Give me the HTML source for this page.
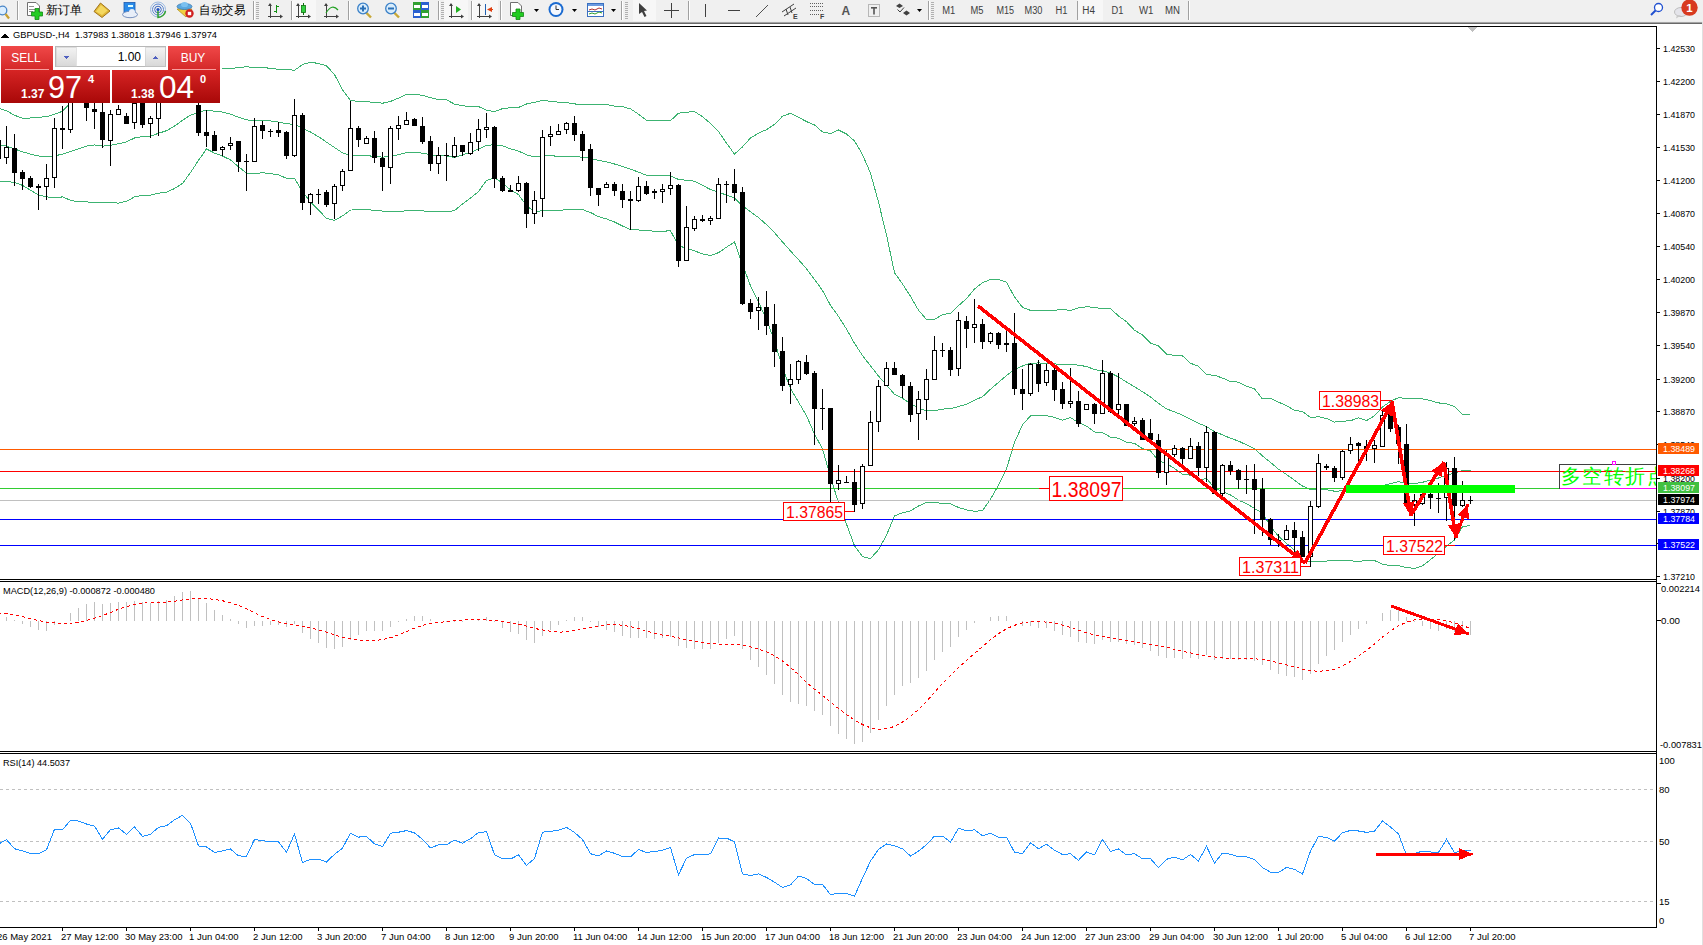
<!DOCTYPE html>
<html><head><meta charset="utf-8"><title>MT4 GBPUSD H4</title>
<style>
html,body{margin:0;padding:0;background:#fff;overflow:hidden;}
body{width:1703px;height:945px;position:relative;font-family:"Liberation Sans", sans-serif;}
svg{position:absolute;left:0;top:0;display:block;}
text{font-family:"Liberation Sans", sans-serif;}
</style></head><body>
<svg width="1703" height="945" viewBox="0 0 1703 945" shape-rendering="crispEdges">
<rect x="0" y="0" width="1703" height="945" fill="#fff"/>
<rect x="0" y="0" width="1703" height="21" fill="#f0f0f0"/>
<rect x="0" y="21" width="1703" height="1" fill="#ececec"/>
<rect x="0" y="22" width="1703" height="1" fill="#a4a4a4"/>
<rect x="0" y="23" width="1703" height="1" fill="#686868"/>
<rect x="0" y="24" width="1703" height="2" fill="#ffffff"/>
<g shape-rendering="geometricPrecision"><circle cx="2.5" cy="10.5" r="4.3" fill="#dbeeff" stroke="#4a86c8" stroke-width="1.3"/>
<line x1="5.5" y1="14" x2="9" y2="18.5" stroke="#c8a030" stroke-width="2.2"/>
<rect x="17" y="1" width="1" height="19" fill="#a0a0a0"/><rect x="18" y="1" width="1" height="19" fill="#ffffff"/>
<path d="M27.5,2.5 H36 L39.5,6 V15.5 H27.5 Z" fill="#fff" stroke="#707070"/>
<rect x="29" y="6" width="5" height="1" fill="#909090"/><rect x="29" y="9" width="6" height="1" fill="#909090"/><rect x="29" y="11" width="4" height="1" fill="#909090"/>
<path d="M35,8.5 h4 v3.5 h3.5 v4 h-3.5 v3.5 h-4 v-3.5 h-3.5 v-4 h3.5 Z" fill="#22cc22" stroke="#118811" stroke-width="0.8"/>
<text x="46" y="14" font-size="12" fill="#000" font-family='"Liberation Sans", sans-serif' textLength="36" lengthAdjust="spacingAndGlyphs">新订单</text>
<polygon points="94,11.5 100.5,3 110,11 102,17.5" fill="#e0b838" stroke="#9a6a10" stroke-width="0.9"/>
<polygon points="96,11.5 101,5 107.5,10.5 102,15" fill="#f4d860"/>
<rect x="124" y="2.5" width="11" height="10" fill="#2a8ae8" stroke="#1a5ab0" stroke-width="0.8"/>
<rect x="128" y="5" width="5" height="2" fill="#dff"/>
<ellipse cx="130" cy="14.5" rx="7.5" ry="3.2" fill="#e8eef8" stroke="#6a86b8" stroke-width="0.9"/>
<circle cx="132" cy="12" r="3" fill="#e8eef8"/>
<circle cx="158" cy="9.5" r="7.5" fill="none" stroke="#9ab8e0" stroke-width="1"/>
<circle cx="158" cy="9.5" r="5.5" fill="none" stroke="#5a86d0" stroke-width="1"/>
<circle cx="158" cy="9.5" r="3.3" fill="none" stroke="#3a66c0" stroke-width="1"/>
<path d="M158,9.5 V17.5 A8,8 0 0 0 165.5,11" fill="none" stroke="#30a030" stroke-width="1.5"/>
<circle cx="158" cy="9.5" r="1.6" fill="#2050c0"/>
<polygon points="177,9 192,9 186,17" fill="#f0d040" stroke="#b09020" stroke-width="0.8"/>
<ellipse cx="184.5" cy="6.5" rx="7.5" ry="3" fill="#5aa8e0" stroke="#3a78b0" stroke-width="0.8"/>
<ellipse cx="184.5" cy="4.5" rx="3.5" ry="2.6" fill="#7ac0f0"/>
<circle cx="189.5" cy="13.5" r="4.2" fill="#d02020"/><rect x="187.8" y="11.8" width="3.4" height="3.4" fill="#fff"/>
<text x="199" y="14" font-size="12" fill="#000" font-family='"Liberation Sans", sans-serif' textLength="46" lengthAdjust="spacingAndGlyphs">自动交易</text>
<rect x="253" y="1" width="1" height="19" fill="#a0a0a0"/><rect x="254" y="1" width="1" height="19" fill="#ffffff"/>
<rect x="256" y="2" width="3" height="1" fill="#b0b0b0"/>
<rect x="256" y="4" width="3" height="1" fill="#b0b0b0"/>
<rect x="256" y="6" width="3" height="1" fill="#b0b0b0"/>
<rect x="256" y="8" width="3" height="1" fill="#b0b0b0"/>
<rect x="256" y="10" width="3" height="1" fill="#b0b0b0"/>
<rect x="256" y="12" width="3" height="1" fill="#b0b0b0"/>
<rect x="256" y="14" width="3" height="1" fill="#b0b0b0"/>
<rect x="256" y="16" width="3" height="1" fill="#b0b0b0"/>
<rect x="256" y="18" width="3" height="1" fill="#b0b0b0"/>
<g fill="#404040"><rect x="270" y="4" width="1" height="14"/><rect x="268" y="16" width="14" height="1"/><polygon points="270,3 268,6 272,6"/><polygon points="283,16.5 280,14.5 280,18.5"/></g>
<g fill="#109010"><rect x="276" y="5" width="1" height="8"/><rect x="277" y="6" width="2" height="1"/><rect x="274" y="11" width="2" height="1"/></g>
<rect x="291" y="1" width="1" height="19" fill="#a0a0a0"/><rect x="292" y="1" width="1" height="19" fill="#ffffff"/>
<rect x="293" y="0" width="23" height="21" fill="#f7f7f7"/>
<g fill="#404040"><rect x="298" y="4" width="1" height="14"/><rect x="296" y="16" width="14" height="1"/><polygon points="298,3 296,6 300,6"/><polygon points="311,16.5 308,14.5 308,18.5"/></g>
<rect x="303" y="3" width="1" height="12" fill="#107010"/><rect x="301.5" y="5.5" width="4" height="7" fill="#30d040" stroke="#107010" stroke-width="0.8"/>
<g fill="#404040"><rect x="326" y="4" width="1" height="14"/><rect x="324" y="16" width="14" height="1"/><polygon points="326,3 324,6 328,6"/><polygon points="339,16.5 336,14.5 336,18.5"/></g>
<path d="M326,13 Q332,3 338,10" fill="none" stroke="#20a020" stroke-width="1.2"/>
<rect x="348" y="1" width="1" height="19" fill="#a0a0a0"/><rect x="349" y="1" width="1" height="19" fill="#ffffff"/>
<line x1="366" y1="12.5" x2="371" y2="17.5" stroke="#c8a838" stroke-width="2.4"/>
<circle cx="363" cy="8.5" r="5.3" fill="#d8ecfb" stroke="#3a80c8" stroke-width="1.3"/>
<rect x="360" y="7.5" width="6" height="2" fill="#2a70b8"/>
<rect x="362" y="5.5" width="2" height="6" fill="#2a70b8"/>
<line x1="394" y1="12.5" x2="399" y2="17.5" stroke="#c8a838" stroke-width="2.4"/>
<circle cx="391" cy="8.5" r="5.3" fill="#d8ecfb" stroke="#3a80c8" stroke-width="1.3"/>
<rect x="388" y="7.5" width="6" height="2" fill="#2a70b8"/>
<rect x="413" y="2" width="8" height="8" fill="#30a030"/><rect x="421" y="2" width="8" height="8" fill="#2a60d0"/><rect x="413" y="10" width="8" height="8" fill="#2a60d0"/><rect x="421" y="10" width="8" height="8" fill="#30a030"/>
<rect x="414" y="5" width="6" height="3" fill="#fff"/>
<rect x="422" y="5" width="6" height="3" fill="#fff"/>
<rect x="414" y="13" width="6" height="3" fill="#fff"/>
<rect x="422" y="13" width="6" height="3" fill="#fff"/>
<rect x="438" y="1" width="1" height="19" fill="#a0a0a0"/><rect x="439" y="1" width="1" height="19" fill="#ffffff"/>
<rect x="441" y="2" width="3" height="1" fill="#b0b0b0"/>
<rect x="441" y="4" width="3" height="1" fill="#b0b0b0"/>
<rect x="441" y="6" width="3" height="1" fill="#b0b0b0"/>
<rect x="441" y="8" width="3" height="1" fill="#b0b0b0"/>
<rect x="441" y="10" width="3" height="1" fill="#b0b0b0"/>
<rect x="441" y="12" width="3" height="1" fill="#b0b0b0"/>
<rect x="441" y="14" width="3" height="1" fill="#b0b0b0"/>
<rect x="441" y="16" width="3" height="1" fill="#b0b0b0"/>
<rect x="441" y="18" width="3" height="1" fill="#b0b0b0"/>
<rect x="444" y="0" width="24" height="21" fill="#f7f7f7"/>
<g fill="#404040"><rect x="451" y="4" width="1" height="14"/><rect x="449" y="16" width="14" height="1"/><polygon points="451,3 449,6 453,6"/><polygon points="464,16.5 461,14.5 461,18.5"/></g>
<polygon points="456,6 456,13 461,9.5" fill="#20b020"/>
<rect x="471" y="1" width="1" height="19" fill="#a0a0a0"/><rect x="472" y="1" width="1" height="19" fill="#ffffff"/>
<rect x="473" y="0" width="25" height="21" fill="#f7f7f7"/>
<g fill="#404040"><rect x="479" y="4" width="1" height="14"/><rect x="477" y="16" width="14" height="1"/><polygon points="479,3 477,6 481,6"/><polygon points="492,16.5 489,14.5 489,18.5"/></g>
<rect x="485" y="4" width="1" height="11" fill="#2060b0"/><polygon points="487,9.5 492,7 492,12" fill="#e04010"/><rect x="489" y="9" width="4" height="1" fill="#e04010"/>
<rect x="500" y="1" width="1" height="19" fill="#a0a0a0"/><rect x="501" y="1" width="1" height="19" fill="#ffffff"/>
<path d="M510.5,2.5 H518 L521.5,6 V15.5 H510.5 Z" fill="#fff" stroke="#707070"/>
<path d="M516,9 h4 v3.5 h3.5 v4 h-3.5 v3 h-4 v-3 h-3.5 v-4 h3.5 Z" fill="#22cc22" stroke="#118811" stroke-width="0.8"/>
<polygon points="534,9 539,9 536.5,12" fill="#000"/>
<circle cx="556" cy="9.5" r="7.5" fill="#1a6ad0"/><circle cx="556" cy="9.5" r="5.5" fill="#f4f8ff"/><path d="M556,5.5 V9.5 H559" stroke="#333" stroke-width="1" fill="none"/>
<polygon points="572,9 577,9 574.5,12" fill="#000"/>
<rect x="587.5" y="3.5" width="16" height="13" fill="#fff" stroke="#3a70c0"/><rect x="588" y="4" width="15" height="2" fill="#6a9ae0"/><path d="M589,10 L592,9 L595,10 L599,8 L602,9" stroke="#b03030" fill="none"/><path d="M589,14 L592,13 L595,14 L599,12 L602,13" stroke="#30a030" fill="none"/><rect x="588" y="11" width="15" height="1" fill="#3a70c0"/>
<polygon points="611,9 616,9 613.5,12" fill="#000"/>
<rect x="621" y="1" width="1" height="19" fill="#a0a0a0"/><rect x="622" y="1" width="1" height="19" fill="#ffffff"/>
<rect x="625" y="2" width="3" height="1" fill="#b0b0b0"/>
<rect x="625" y="4" width="3" height="1" fill="#b0b0b0"/>
<rect x="625" y="6" width="3" height="1" fill="#b0b0b0"/>
<rect x="625" y="8" width="3" height="1" fill="#b0b0b0"/>
<rect x="625" y="10" width="3" height="1" fill="#b0b0b0"/>
<rect x="625" y="12" width="3" height="1" fill="#b0b0b0"/>
<rect x="625" y="14" width="3" height="1" fill="#b0b0b0"/>
<rect x="625" y="16" width="3" height="1" fill="#b0b0b0"/>
<rect x="625" y="18" width="3" height="1" fill="#b0b0b0"/>
<rect x="633" y="0" width="23" height="21" fill="#f7f7f7"/>
<polygon points="639,3 647,10.5 644,11 646.5,16 644.5,17 642,12 639,14" fill="#404040"/>
<rect x="671" y="3" width="1" height="15" fill="#404040"/><rect x="664" y="10" width="15" height="1" fill="#404040"/>
<rect x="688" y="1" width="1" height="19" fill="#a0a0a0"/><rect x="689" y="1" width="1" height="19" fill="#ffffff"/>
<rect x="705" y="4" width="1" height="13" fill="#404040"/>
<rect x="728" y="10" width="12" height="1" fill="#404040"/>
<line x1="756" y1="17" x2="768" y2="5" stroke="#505050" stroke-width="1"/>
<g stroke="#404040" stroke-width="1" fill="none"><line x1="782" y1="12" x2="794" y2="4"/><line x1="784" y1="16" x2="796" y2="8"/><line x1="786" y1="9" x2="788" y2="15"/><line x1="790" y1="7" x2="792" y2="13"/></g>
<text x="793" y="18.5" font-size="7" font-weight="bold" fill="#404040" font-family='"Liberation Sans", sans-serif'>E</text>
<line x1="810" y1="3.5" x2="824" y2="3.5" stroke="#606060" stroke-width="1" stroke-dasharray="1,1"/>
<line x1="810" y1="6.5" x2="824" y2="6.5" stroke="#606060" stroke-width="1" stroke-dasharray="1,1"/>
<line x1="810" y1="10.5" x2="824" y2="10.5" stroke="#606060" stroke-width="1" stroke-dasharray="1,1"/>
<line x1="810" y1="14.5" x2="819" y2="14.5" stroke="#606060" stroke-width="1" stroke-dasharray="1,1"/>
<text x="820" y="18.5" font-size="7" font-weight="bold" fill="#404040" font-family='"Liberation Sans", sans-serif'>F</text>
<text x="841.5" y="15" font-size="12" font-weight="bold" fill="#555555" font-family='"Liberation Sans", sans-serif'>A</text>
<rect x="868.5" y="4.5" width="11" height="12" fill="none" stroke="#606060" stroke-width="0.8" stroke-dasharray="1,1"/><rect x="871" y="7" width="6" height="1.6" fill="#555"/><rect x="873.2" y="7" width="1.6" height="7.5" fill="#555"/>
<polygon points="896,6 899.5,3.5 903,6 899.5,8" fill="#404040"/><polygon points="903,13 906.5,10.5 910,13 906.5,15.5" fill="#404040"/><path d="M897.5,9.5 L900,12 L904,7.5" fill="none" stroke="#404040" stroke-width="1"/>
<polygon points="917,9 922,9 919.5,12" fill="#000"/>
<rect x="928" y="1" width="1" height="19" fill="#a0a0a0"/><rect x="929" y="1" width="1" height="19" fill="#ffffff"/>
<rect x="931" y="2" width="3" height="1" fill="#b0b0b0"/>
<rect x="931" y="4" width="3" height="1" fill="#b0b0b0"/>
<rect x="931" y="6" width="3" height="1" fill="#b0b0b0"/>
<rect x="931" y="8" width="3" height="1" fill="#b0b0b0"/>
<rect x="931" y="10" width="3" height="1" fill="#b0b0b0"/>
<rect x="931" y="12" width="3" height="1" fill="#b0b0b0"/>
<rect x="931" y="14" width="3" height="1" fill="#b0b0b0"/>
<rect x="931" y="16" width="3" height="1" fill="#b0b0b0"/>
<rect x="931" y="18" width="3" height="1" fill="#b0b0b0"/>
<rect x="1078" y="0" width="25" height="21" fill="#f7f7f7"/>
<rect x="1077" y="1" width="1" height="19" fill="#a0a0a0"/>
<text x="942.2" y="14" font-size="10" fill="#404040" font-family='"Liberation Sans", sans-serif' textLength="13.0" lengthAdjust="spacingAndGlyphs">M1</text>
<text x="970.5" y="14" font-size="10" fill="#404040" font-family='"Liberation Sans", sans-serif' textLength="13.0" lengthAdjust="spacingAndGlyphs">M5</text>
<text x="996.4" y="14" font-size="10" fill="#404040" font-family='"Liberation Sans", sans-serif' textLength="17.6" lengthAdjust="spacingAndGlyphs">M15</text>
<text x="1024.5" y="14" font-size="10" fill="#404040" font-family='"Liberation Sans", sans-serif' textLength="17.9" lengthAdjust="spacingAndGlyphs">M30</text>
<text x="1055.6" y="14" font-size="10" fill="#404040" font-family='"Liberation Sans", sans-serif' textLength="12.0" lengthAdjust="spacingAndGlyphs">H1</text>
<text x="1082.3" y="14" font-size="10" fill="#404040" font-family='"Liberation Sans", sans-serif' textLength="12.7" lengthAdjust="spacingAndGlyphs">H4</text>
<text x="1111.5" y="14" font-size="10" fill="#404040" font-family='"Liberation Sans", sans-serif' textLength="11.9" lengthAdjust="spacingAndGlyphs">D1</text>
<text x="1139" y="14" font-size="10" fill="#404040" font-family='"Liberation Sans", sans-serif' textLength="14.5" lengthAdjust="spacingAndGlyphs">W1</text>
<text x="1165" y="14" font-size="10" fill="#404040" font-family='"Liberation Sans", sans-serif' textLength="15.0" lengthAdjust="spacingAndGlyphs">MN</text>
<rect x="1188" y="1" width="1" height="19" fill="#a0a0a0"/><rect x="1189" y="1" width="1" height="19" fill="#ffffff"/>
<circle cx="1658.5" cy="7.5" r="4" fill="#fff" stroke="#2050d0" stroke-width="1.3"/><line x1="1655.5" y1="10.5" x2="1651" y2="15" stroke="#2050d0" stroke-width="2"/>
<ellipse cx="1681" cy="12" rx="6.5" ry="4.5" fill="#e4e4ea" stroke="#b0b0b0" stroke-width="0.8"/>
<path d="M1677,15 L1676,18.5 L1681,15.5 Z" fill="#c8c8c8"/><circle cx="1689.5" cy="7.6" r="8.2" fill="#d83a20"/>
<text x="1689.5" y="12" font-size="11.5" font-weight="bold" fill="#fff" text-anchor="middle" font-family='"Liberation Sans", sans-serif'>1</text></g>
<defs>
<clipPath id="clipMain"><rect x="0" y="27" width="1656" height="552"/></clipPath>
<clipPath id="clipMacd"><rect x="0" y="582" width="1656" height="169"/></clipPath>
<clipPath id="clipRsi"><rect x="0" y="754" width="1656" height="172"/></clipPath>
<linearGradient id="gSellTop" x1="0" y1="0" x2="0" y2="1"><stop offset="0" stop-color="#f04848"/><stop offset="1" stop-color="#d42828"/></linearGradient>
<linearGradient id="gSellBot" x1="0" y1="0" x2="0" y2="1"><stop offset="0" stop-color="#d62424"/><stop offset="1" stop-color="#a80808"/></linearGradient>
<linearGradient id="gBtn" x1="0" y1="0" x2="0" y2="1"><stop offset="0" stop-color="#f4f4f4"/><stop offset="1" stop-color="#d8d8d8"/></linearGradient>
</defs>
<g clip-path="url(#clipMain)">
<polyline fill="none" stroke="#3cb371" stroke-width="1"  points="-1.5,108.23 6.5,110.78 14.5,115.27 22.5,118.15 30.5,117.99 38.5,117.18 46.5,116.82 54.5,114.27 62.5,111.28 70.5,102.67 78.5,95.58 86.5,90.41 94.5,87.33 102.5,90.02 110.5,88.06 118.5,84.4 126.5,82.39 134.5,79.08 142.5,77.79 150.5,77.26 158.5,73.35 166.5,69.04 174.5,63.62 182.5,57.46 190.5,57.51 198.5,64.32 206.5,71.37 214.5,69.37 222.5,68.08 230.5,68.56 238.5,67.52 246.5,66.75 254.5,67.54 262.5,67.58 270.5,68.26 278.5,69.42 286.5,69.1 294.5,70.35 302.5,64.48 310.5,62.2 318.5,63.49 326.5,65.81 334.5,74.55 342.5,89.74 350.5,100.52 358.5,101.48 366.5,101.84 374.5,102.28 382.5,103.24 390.5,101.41 398.5,98.1 406.5,94.3 414.5,94.17 422.5,95.35 430.5,97.66 438.5,99.74 446.5,99.77 454.5,104.15 462.5,105.74 470.5,106.5 478.5,106.57 486.5,110.16 494.5,111.56 502.5,108.66 510.5,107.75 518.5,107.49 526.5,103.97 534.5,102.29 542.5,100.4 550.5,101.25 558.5,102.19 566.5,102.66 574.5,103.9 582.5,104.75 590.5,104.33 598.5,104.06 606.5,104.6 614.5,106.01 622.5,106.7 630.5,108.85 638.5,114.1 646.5,120.44 654.5,120.65 662.5,120.65 670.5,120.62 678.5,113.25 686.5,112.22 694.5,111.53 702.5,116.68 710.5,123.52 718.5,131.54 726.5,143.13 734.5,154.08 742.5,146.9 750.5,137.91 758.5,133.15 766.5,129.63 774.5,124.34 782.5,116.21 790.5,113.3 798.5,117.33 806.5,121.54 814.5,124.94 822.5,131.91 830.5,133.63 838.5,129.95 846.5,134.02 854.5,140.85 862.5,154.59 870.5,173.1 878.5,202.15 886.5,235.02 894.5,272.67 902.5,284.02 910.5,296.28 918.5,310.22 926.5,319.49 934.5,319.44 942.5,314.58 950.5,313.28 958.5,305.66 966.5,298.66 974.5,288.96 982.5,282.77 990.5,279.46 998.5,279.49 1006.5,282.24 1014.5,296.98 1022.5,307.25 1030.5,310.42 1038.5,310.53 1046.5,310.6 1054.5,310.31 1062.5,309.23 1070.5,310.58 1078.5,307.83 1086.5,306.89 1094.5,307.17 1102.5,308.92 1110.5,308.52 1118.5,316 1126.5,321.7 1134.5,330.27 1142.5,334.81 1150.5,343.1 1158.5,345.81 1166.5,354.11 1174.5,355.36 1182.5,355.88 1190.5,363.23 1198.5,366.26 1206.5,374.66 1214.5,375.23 1222.5,378.03 1230.5,381.57 1238.5,382.09 1246.5,386.15 1254.5,388.87 1262.5,398.98 1270.5,398.31 1278.5,402.17 1286.5,405.51 1294.5,410.45 1302.5,411.49 1310.5,417.6 1318.5,416.71 1326.5,418.45 1334.5,422.11 1342.5,421.16 1350.5,420.78 1358.5,417.69 1366.5,420.68 1374.5,415.68 1382.5,407.04 1390.5,401.31 1398.5,397.7 1406.5,398.35 1414.5,398.6 1422.5,398.8 1430.5,400.58 1438.5,402.9 1446.5,403.77 1454.5,406.64 1462.5,414.19 1470.5,414.66"/>
<polyline fill="none" stroke="#3cb371" stroke-width="1"  points="-1.5,144.79 6.5,146 14.5,148.94 22.5,151.73 30.5,154.14 38.5,156 46.5,156.84 54.5,155.92 62.5,154.1 70.5,151.47 78.5,148.77 86.5,146.16 94.5,144.93 102.5,146.11 110.5,145.37 118.5,143.76 126.5,141.85 134.5,138.01 142.5,136.46 150.5,136.2 158.5,133.28 166.5,130.7 174.5,126.06 182.5,120.42 190.5,115.09 198.5,112.34 206.5,110.15 214.5,111.22 222.5,112.08 230.5,114.21 238.5,117.15 246.5,119.85 254.5,120.59 262.5,120.15 270.5,120.99 278.5,122.12 286.5,123.72 294.5,124.32 302.5,128.22 310.5,132.03 318.5,136.71 326.5,142.12 334.5,147.49 342.5,152.81 350.5,155.28 358.5,155.67 366.5,155.82 374.5,156.2 382.5,157.16 390.5,156.44 398.5,154.66 406.5,152.61 414.5,152.56 422.5,153.1 430.5,154.68 438.5,155.84 446.5,155.88 454.5,157.39 462.5,154.88 470.5,152.29 478.5,149.06 486.5,145.23 494.5,144.82 502.5,145.76 510.5,148.87 518.5,151.06 526.5,154.82 534.5,156.97 542.5,155.53 550.5,155.85 558.5,156.16 566.5,156.29 574.5,156.7 582.5,157.16 590.5,158.41 598.5,160.34 606.5,161.76 614.5,163.99 622.5,166.34 630.5,169.2 638.5,172.05 646.5,175.34 654.5,176 662.5,175.97 670.5,175.68 678.5,179.51 686.5,180.23 694.5,181.18 702.5,185.32 710.5,189.51 718.5,192.11 726.5,195.15 734.5,198.05 742.5,205.71 750.5,211.87 758.5,217.53 766.5,224.6 774.5,232.63 782.5,241.94 790.5,250.93 798.5,259.69 806.5,268.68 814.5,279.5 822.5,290.42 830.5,305.33 838.5,316.36 846.5,329.08 854.5,343.29 862.5,355.62 870.5,365.83 878.5,375.96 886.5,385.14 894.5,394.27 902.5,398.39 910.5,403.54 918.5,408.14 926.5,410.86 934.5,410.84 942.5,409.12 950.5,408.58 958.5,406.53 966.5,404.28 974.5,400.1 982.5,396.75 990.5,389.25 998.5,382.43 1006.5,375.52 1014.5,369.73 1022.5,366.04 1030.5,363.14 1038.5,362.98 1046.5,363.12 1054.5,363.83 1062.5,364.71 1070.5,364.1 1078.5,365.25 1086.5,366.47 1094.5,369.58 1102.5,370.74 1110.5,372.88 1118.5,377.08 1126.5,381.92 1134.5,386.79 1142.5,391.71 1150.5,396.99 1158.5,403.38 1166.5,408.86 1174.5,411.87 1182.5,415.12 1190.5,419.2 1198.5,423.39 1206.5,426.51 1214.5,431.7 1222.5,434.82 1230.5,438.25 1238.5,441.09 1246.5,444.9 1254.5,448.69 1262.5,455.99 1270.5,462.38 1278.5,469.18 1286.5,474.47 1294.5,480.27 1302.5,486.12 1310.5,489.5 1318.5,489.09 1326.5,489.75 1334.5,491.18 1342.5,490.86 1350.5,490.76 1358.5,489.69 1366.5,490.49 1374.5,488.12 1382.5,485.61 1390.5,483.53 1398.5,481.72 1406.5,482.96 1414.5,483.5 1422.5,482.27 1430.5,480.13 1438.5,478 1446.5,474.88 1454.5,473.26 1462.5,470.44 1470.5,470.09"/>
<polyline fill="none" stroke="#3cb371" stroke-width="1"  points="-1.5,181.35 6.5,181.23 14.5,182.6 22.5,185.32 30.5,190.29 38.5,194.82 46.5,196.85 54.5,197.58 62.5,196.93 70.5,200.27 78.5,201.95 86.5,201.91 94.5,202.52 102.5,202.19 110.5,202.68 118.5,203.12 126.5,201.31 134.5,196.93 142.5,195.13 150.5,195.14 158.5,193.21 166.5,192.36 174.5,188.49 182.5,183.39 190.5,172.67 198.5,160.36 206.5,148.94 214.5,153.07 222.5,156.07 230.5,159.85 238.5,166.77 246.5,172.94 254.5,173.64 262.5,172.72 270.5,173.72 278.5,174.82 286.5,178.34 294.5,178.3 302.5,191.95 310.5,201.85 318.5,209.94 326.5,218.44 334.5,220.44 342.5,215.89 350.5,210.03 358.5,209.86 366.5,209.8 374.5,210.13 382.5,211.08 390.5,211.47 398.5,211.23 406.5,210.92 414.5,210.96 422.5,210.86 430.5,211.7 438.5,211.95 446.5,211.98 454.5,210.63 462.5,204.03 470.5,198.07 478.5,191.55 486.5,180.31 494.5,178.09 502.5,182.87 510.5,189.99 518.5,194.62 526.5,205.67 534.5,211.64 542.5,210.67 550.5,210.44 558.5,210.12 566.5,209.92 574.5,209.51 582.5,209.57 590.5,212.49 598.5,216.63 606.5,218.93 614.5,221.97 622.5,225.99 630.5,229.56 638.5,230 646.5,230.24 654.5,231.35 662.5,231.28 670.5,230.74 678.5,245.76 686.5,248.24 694.5,250.83 702.5,253.96 710.5,255.49 718.5,252.68 726.5,247.16 734.5,242.01 742.5,264.52 750.5,285.83 758.5,301.92 766.5,319.57 774.5,340.93 782.5,367.66 790.5,388.55 798.5,402.04 806.5,415.82 814.5,434.05 822.5,448.92 830.5,477.02 838.5,502.76 846.5,524.14 854.5,545.73 862.5,556.65 870.5,558.56 878.5,549.76 886.5,535.26 894.5,515.87 902.5,512.77 910.5,510.8 918.5,506.06 926.5,502.23 934.5,502.25 942.5,503.66 950.5,503.89 958.5,507.4 966.5,509.9 974.5,511.25 982.5,510.72 990.5,499.05 998.5,485.37 1006.5,468.79 1014.5,442.48 1022.5,424.83 1030.5,415.86 1038.5,415.43 1046.5,415.63 1054.5,417.35 1062.5,420.19 1070.5,417.61 1078.5,422.68 1086.5,426.05 1094.5,431.99 1102.5,432.56 1110.5,437.23 1118.5,438.17 1126.5,442.15 1134.5,443.31 1142.5,448.62 1150.5,450.88 1158.5,460.95 1166.5,463.61 1174.5,468.38 1182.5,474.35 1190.5,475.17 1198.5,480.52 1206.5,478.35 1214.5,488.17 1222.5,491.61 1230.5,494.92 1238.5,500.1 1246.5,503.64 1254.5,508.52 1262.5,512.99 1270.5,526.46 1278.5,536.19 1286.5,543.43 1294.5,550.1 1302.5,560.75 1310.5,561.4 1318.5,561.47 1326.5,561.06 1334.5,560.24 1342.5,560.57 1350.5,560.74 1358.5,561.7 1366.5,560.3 1374.5,560.57 1382.5,564.19 1390.5,565.75 1398.5,565.74 1406.5,567.56 1414.5,568.41 1422.5,565.74 1430.5,559.68 1438.5,553.09 1446.5,545.98 1454.5,539.88 1462.5,526.68 1470.5,525.53"/>
<rect x="0" y="449.0" width="1656" height="1" fill="#ff5a00"/>
<rect x="0" y="471.0" width="1656" height="1" fill="#ff0000"/>
<rect x="0" y="488.0" width="1656" height="1" fill="#32cd32"/>
<rect x="0" y="500.0" width="1656" height="1" fill="#c0c0c0"/>
<rect x="0" y="519.0" width="1656" height="1" fill="#0000ff"/>
<rect x="0" y="545.0" width="1656" height="1" fill="#0000ff"/>
<g fill="#000">
<rect x="-2" y="135" width="1" height="27"/><rect x="-4" y="140" width="5" height="19"/>
<rect x="6" y="126" width="1" height="38"/><rect x="4" y="147" width="5" height="11"/><rect x="5" y="148" width="3" height="9" fill="#fff"/>
<rect x="14" y="134" width="1" height="52"/><rect x="12" y="148" width="5" height="25"/>
<rect x="22" y="170" width="1" height="20"/><rect x="20" y="172" width="5" height="7"/>
<rect x="30" y="176" width="1" height="12"/><rect x="28" y="178" width="5" height="9"/>
<rect x="38" y="184" width="1" height="26"/><rect x="36" y="186" width="5" height="2"/>
<rect x="46" y="164" width="1" height="36"/><rect x="44" y="178" width="5" height="9"/><rect x="45" y="179" width="3" height="7" fill="#fff"/>
<rect x="54" y="118" width="1" height="70"/><rect x="52" y="128" width="5" height="50"/><rect x="53" y="129" width="3" height="48" fill="#fff"/>
<rect x="62" y="106" width="1" height="43"/><rect x="60" y="128" width="5" height="2"/>
<rect x="70" y="95" width="1" height="38"/><rect x="68" y="100" width="5" height="30"/><rect x="69" y="101" width="3" height="28" fill="#fff"/>
<rect x="78" y="90" width="1" height="12"/><rect x="76" y="95" width="5" height="5"/><rect x="77" y="96" width="3" height="3" fill="#fff"/>
<rect x="86" y="95" width="1" height="26"/><rect x="84" y="100" width="5" height="8"/>
<rect x="94" y="100" width="1" height="29"/><rect x="92" y="109" width="5" height="3"/>
<rect x="102" y="100" width="1" height="48"/><rect x="100" y="112" width="5" height="28"/>
<rect x="110" y="110" width="1" height="56"/><rect x="108" y="114" width="5" height="27"/><rect x="109" y="115" width="3" height="25" fill="#fff"/>
<rect x="118" y="105" width="1" height="10"/><rect x="116" y="109" width="5" height="6"/><rect x="117" y="110" width="3" height="4" fill="#fff"/>
<rect x="126" y="113" width="1" height="11"/><rect x="124" y="116" width="5" height="8"/>
<rect x="134" y="100" width="1" height="29"/><rect x="132" y="103" width="5" height="20"/><rect x="133" y="104" width="3" height="18" fill="#fff"/>
<rect x="142" y="100" width="1" height="28"/><rect x="140" y="103" width="5" height="22"/>
<rect x="150" y="116" width="1" height="22"/><rect x="148" y="118" width="5" height="6"/><rect x="149" y="119" width="3" height="4" fill="#fff"/>
<rect x="158" y="98" width="1" height="38"/><rect x="156" y="100" width="5" height="19"/><rect x="157" y="101" width="3" height="17" fill="#fff"/>
<rect x="166" y="88" width="1" height="13"/><rect x="164" y="92" width="5" height="8"/><rect x="165" y="93" width="3" height="6" fill="#fff"/>
<rect x="174" y="86" width="1" height="14"/><rect x="172" y="92" width="5" height="4"/>
<rect x="182" y="84" width="1" height="15"/><rect x="180" y="88" width="5" height="8"/><rect x="181" y="89" width="3" height="6" fill="#fff"/>
<rect x="190" y="85" width="1" height="13"/><rect x="188" y="88" width="5" height="7"/>
<rect x="198" y="95" width="1" height="41"/><rect x="196" y="105" width="5" height="28"/>
<rect x="206" y="110" width="1" height="37"/><rect x="204" y="132" width="5" height="4"/>
<rect x="214" y="131" width="1" height="20"/><rect x="212" y="135" width="5" height="16"/>
<rect x="222" y="146" width="1" height="10"/><rect x="220" y="147" width="5" height="3"/><rect x="221" y="148" width="3" height="1" fill="#fff"/>
<rect x="230" y="137" width="1" height="13"/><rect x="228" y="143" width="5" height="3"/><rect x="229" y="144" width="3" height="1" fill="#fff"/>
<rect x="238" y="141" width="1" height="31"/><rect x="236" y="141" width="5" height="21"/>
<rect x="246" y="154" width="1" height="37"/><rect x="244" y="161" width="5" height="1"/>
<rect x="254" y="118" width="1" height="44"/><rect x="252" y="126" width="5" height="36"/><rect x="253" y="127" width="3" height="34" fill="#fff"/>
<rect x="262" y="121" width="1" height="18"/><rect x="260" y="125" width="5" height="6"/>
<rect x="270" y="129" width="1" height="8"/><rect x="268" y="131" width="5" height="1"/>
<rect x="278" y="122" width="1" height="15"/><rect x="276" y="130" width="5" height="3"/>
<rect x="286" y="131" width="1" height="28"/><rect x="284" y="132" width="5" height="24"/>
<rect x="294" y="99" width="1" height="58"/><rect x="292" y="115" width="5" height="41"/><rect x="293" y="116" width="3" height="39" fill="#fff"/>
<rect x="302" y="113" width="1" height="97"/><rect x="300" y="115" width="5" height="88"/>
<rect x="310" y="193" width="1" height="22"/><rect x="308" y="194" width="5" height="9"/><rect x="309" y="195" width="3" height="7" fill="#fff"/>
<rect x="318" y="189" width="1" height="15"/><rect x="316" y="194" width="5" height="1"/>
<rect x="326" y="190" width="1" height="17"/><rect x="324" y="192" width="5" height="13"/>
<rect x="334" y="184" width="1" height="35"/><rect x="332" y="186" width="5" height="18"/><rect x="333" y="187" width="3" height="16" fill="#fff"/>
<rect x="342" y="169" width="1" height="22"/><rect x="340" y="171" width="5" height="15"/><rect x="341" y="172" width="3" height="13" fill="#fff"/>
<rect x="350" y="101" width="1" height="70"/><rect x="348" y="128" width="5" height="43"/><rect x="349" y="129" width="3" height="41" fill="#fff"/>
<rect x="358" y="126" width="1" height="21"/><rect x="356" y="128" width="5" height="12"/>
<rect x="366" y="136" width="1" height="8"/><rect x="364" y="138" width="5" height="6"/><rect x="365" y="139" width="3" height="4" fill="#fff"/>
<rect x="374" y="131" width="1" height="32"/><rect x="372" y="138" width="5" height="20"/>
<rect x="382" y="152" width="1" height="39"/><rect x="380" y="158" width="5" height="9"/>
<rect x="390" y="126" width="1" height="58"/><rect x="388" y="128" width="5" height="40"/><rect x="389" y="129" width="3" height="38" fill="#fff"/>
<rect x="398" y="116" width="1" height="24"/><rect x="396" y="125" width="5" height="4"/><rect x="397" y="126" width="3" height="2" fill="#fff"/>
<rect x="406" y="112" width="1" height="13"/><rect x="404" y="120" width="5" height="5"/><rect x="405" y="121" width="3" height="3" fill="#fff"/>
<rect x="414" y="118" width="1" height="8"/><rect x="412" y="119" width="5" height="7"/>
<rect x="422" y="117" width="1" height="27"/><rect x="420" y="126" width="5" height="16"/>
<rect x="430" y="136" width="1" height="35"/><rect x="428" y="141" width="5" height="23"/>
<rect x="438" y="147" width="1" height="27"/><rect x="436" y="155" width="5" height="9"/><rect x="437" y="156" width="3" height="7" fill="#fff"/>
<rect x="446" y="143" width="1" height="38"/><rect x="444" y="155" width="5" height="1"/>
<rect x="454" y="137" width="1" height="21"/><rect x="452" y="145" width="5" height="12"/><rect x="453" y="146" width="3" height="10" fill="#fff"/>
<rect x="462" y="145" width="1" height="11"/><rect x="460" y="145" width="5" height="7"/>
<rect x="470" y="133" width="1" height="22"/><rect x="468" y="142" width="5" height="12"/><rect x="469" y="143" width="3" height="10" fill="#fff"/>
<rect x="478" y="119" width="1" height="32"/><rect x="476" y="129" width="5" height="13"/><rect x="477" y="130" width="3" height="11" fill="#fff"/>
<rect x="486" y="113" width="1" height="25"/><rect x="484" y="127" width="5" height="3"/><rect x="485" y="128" width="3" height="1" fill="#fff"/>
<rect x="494" y="126" width="1" height="62"/><rect x="492" y="127" width="5" height="52"/>
<rect x="502" y="176" width="1" height="16"/><rect x="500" y="178" width="5" height="13"/>
<rect x="510" y="185" width="1" height="7"/><rect x="508" y="190" width="5" height="2"/>
<rect x="518" y="176" width="1" height="16"/><rect x="516" y="183" width="5" height="8"/><rect x="517" y="184" width="3" height="6" fill="#fff"/>
<rect x="526" y="182" width="1" height="46"/><rect x="524" y="183" width="5" height="31"/>
<rect x="534" y="191" width="1" height="33"/><rect x="532" y="200" width="5" height="14"/><rect x="533" y="201" width="3" height="12" fill="#fff"/>
<rect x="542" y="130" width="1" height="87"/><rect x="540" y="137" width="5" height="62"/><rect x="541" y="138" width="3" height="60" fill="#fff"/>
<rect x="550" y="126" width="1" height="20"/><rect x="548" y="134" width="5" height="3"/><rect x="549" y="135" width="3" height="1" fill="#fff"/>
<rect x="558" y="124" width="1" height="11"/><rect x="556" y="131" width="5" height="4"/><rect x="557" y="132" width="3" height="2" fill="#fff"/>
<rect x="566" y="122" width="1" height="12"/><rect x="564" y="123" width="5" height="7"/><rect x="565" y="124" width="3" height="5" fill="#fff"/>
<rect x="574" y="116" width="1" height="25"/><rect x="572" y="123" width="5" height="12"/>
<rect x="582" y="131" width="1" height="30"/><rect x="580" y="134" width="5" height="17"/>
<rect x="590" y="144" width="1" height="52"/><rect x="588" y="149" width="5" height="39"/>
<rect x="598" y="188" width="1" height="18"/><rect x="596" y="188" width="5" height="7"/>
<rect x="606" y="182" width="1" height="6"/><rect x="604" y="184" width="5" height="4"/><rect x="605" y="185" width="3" height="2" fill="#fff"/>
<rect x="614" y="182" width="1" height="14"/><rect x="612" y="184" width="5" height="7"/>
<rect x="622" y="184" width="1" height="24"/><rect x="620" y="191" width="5" height="9"/>
<rect x="630" y="191" width="1" height="39"/><rect x="628" y="199" width="5" height="2"/>
<rect x="638" y="177" width="1" height="25"/><rect x="636" y="186" width="5" height="15"/><rect x="637" y="187" width="3" height="13" fill="#fff"/>
<rect x="646" y="181" width="1" height="14"/><rect x="644" y="186" width="5" height="8"/>
<rect x="654" y="189" width="1" height="10"/><rect x="652" y="191" width="5" height="2"/>
<rect x="662" y="184" width="1" height="19"/><rect x="660" y="189" width="5" height="3"/><rect x="661" y="190" width="3" height="1" fill="#fff"/>
<rect x="670" y="172" width="1" height="23"/><rect x="668" y="185" width="5" height="4"/><rect x="669" y="186" width="3" height="2" fill="#fff"/>
<rect x="678" y="184" width="1" height="83"/><rect x="676" y="185" width="5" height="76"/>
<rect x="686" y="206" width="1" height="55"/><rect x="684" y="227" width="5" height="34"/><rect x="685" y="228" width="3" height="32" fill="#fff"/>
<rect x="694" y="216" width="1" height="15"/><rect x="692" y="219" width="5" height="10"/><rect x="693" y="220" width="3" height="8" fill="#fff"/>
<rect x="702" y="215" width="1" height="7"/><rect x="700" y="219" width="5" height="2"/>
<rect x="710" y="216" width="1" height="9"/><rect x="708" y="218" width="5" height="3"/><rect x="709" y="219" width="3" height="1" fill="#fff"/>
<rect x="718" y="178" width="1" height="41"/><rect x="716" y="184" width="5" height="35"/><rect x="717" y="185" width="3" height="33" fill="#fff"/>
<rect x="726" y="181" width="1" height="22"/><rect x="724" y="184" width="5" height="1"/>
<rect x="734" y="169" width="1" height="32"/><rect x="732" y="184" width="5" height="9"/>
<rect x="742" y="187" width="1" height="118"/><rect x="740" y="192" width="5" height="112"/>
<rect x="750" y="299" width="1" height="20"/><rect x="748" y="303" width="5" height="9"/>
<rect x="758" y="297" width="1" height="33"/><rect x="756" y="307" width="5" height="4"/><rect x="757" y="308" width="3" height="2" fill="#fff"/>
<rect x="766" y="291" width="1" height="44"/><rect x="764" y="307" width="5" height="19"/>
<rect x="774" y="304" width="1" height="63"/><rect x="772" y="324" width="5" height="28"/>
<rect x="782" y="337" width="1" height="54"/><rect x="780" y="351" width="5" height="35"/>
<rect x="790" y="364" width="1" height="40"/><rect x="788" y="379" width="5" height="6"/><rect x="789" y="380" width="3" height="4" fill="#fff"/>
<rect x="798" y="360" width="1" height="24"/><rect x="796" y="361" width="5" height="19"/><rect x="797" y="362" width="3" height="17" fill="#fff"/>
<rect x="806" y="355" width="1" height="20"/><rect x="804" y="362" width="5" height="12"/>
<rect x="814" y="371" width="1" height="74"/><rect x="812" y="373" width="5" height="36"/>
<rect x="822" y="389" width="1" height="41"/><rect x="820" y="408" width="5" height="1"/>
<rect x="830" y="408" width="1" height="96"/><rect x="828" y="408" width="5" height="76"/>
<rect x="838" y="465" width="1" height="25"/><rect x="836" y="480" width="5" height="4"/><rect x="837" y="481" width="3" height="2" fill="#fff"/>
<rect x="846" y="476" width="1" height="7"/><rect x="844" y="482" width="5" height="1"/>
<rect x="854" y="469" width="1" height="43"/><rect x="852" y="482" width="5" height="23"/>
<rect x="862" y="464" width="1" height="45"/><rect x="860" y="466" width="5" height="38"/><rect x="861" y="467" width="3" height="36" fill="#fff"/>
<rect x="870" y="411" width="1" height="55"/><rect x="868" y="422" width="5" height="44"/><rect x="869" y="423" width="3" height="42" fill="#fff"/>
<rect x="878" y="380" width="1" height="52"/><rect x="876" y="386" width="5" height="36"/><rect x="877" y="387" width="3" height="34" fill="#fff"/>
<rect x="886" y="362" width="1" height="24"/><rect x="884" y="368" width="5" height="18"/><rect x="885" y="369" width="3" height="16" fill="#fff"/>
<rect x="894" y="362" width="1" height="13"/><rect x="892" y="368" width="5" height="7"/>
<rect x="902" y="374" width="1" height="24"/><rect x="900" y="375" width="5" height="11"/>
<rect x="910" y="382" width="1" height="40"/><rect x="908" y="386" width="5" height="29"/>
<rect x="918" y="391" width="1" height="49"/><rect x="916" y="399" width="5" height="15"/><rect x="917" y="400" width="3" height="13" fill="#fff"/>
<rect x="926" y="369" width="1" height="51"/><rect x="924" y="379" width="5" height="21"/><rect x="925" y="380" width="3" height="19" fill="#fff"/>
<rect x="934" y="336" width="1" height="44"/><rect x="932" y="350" width="5" height="30"/><rect x="933" y="351" width="3" height="28" fill="#fff"/>
<rect x="942" y="343" width="1" height="14"/><rect x="940" y="350" width="5" height="1"/>
<rect x="950" y="347" width="1" height="29"/><rect x="948" y="350" width="5" height="20"/>
<rect x="958" y="312" width="1" height="64"/><rect x="956" y="320" width="5" height="49"/><rect x="957" y="321" width="3" height="47" fill="#fff"/>
<rect x="966" y="316" width="1" height="32"/><rect x="964" y="321" width="5" height="8"/>
<rect x="974" y="299" width="1" height="44"/><rect x="972" y="324" width="5" height="4"/><rect x="973" y="325" width="3" height="2" fill="#fff"/>
<rect x="982" y="319" width="1" height="30"/><rect x="980" y="324" width="5" height="18"/>
<rect x="990" y="332" width="1" height="12"/><rect x="988" y="333" width="5" height="9"/><rect x="989" y="334" width="3" height="7" fill="#fff"/>
<rect x="998" y="332" width="1" height="17"/><rect x="996" y="333" width="5" height="12"/>
<rect x="1006" y="330" width="1" height="22"/><rect x="1004" y="343" width="5" height="2"/>
<rect x="1014" y="313" width="1" height="82"/><rect x="1012" y="343" width="5" height="46"/>
<rect x="1022" y="369" width="1" height="41"/><rect x="1020" y="389" width="5" height="5"/>
<rect x="1030" y="363" width="1" height="33"/><rect x="1028" y="364" width="5" height="30"/><rect x="1029" y="365" width="3" height="28" fill="#fff"/>
<rect x="1038" y="360" width="1" height="32"/><rect x="1036" y="364" width="5" height="20"/>
<rect x="1046" y="364" width="1" height="22"/><rect x="1044" y="370" width="5" height="13"/><rect x="1045" y="371" width="3" height="11" fill="#fff"/>
<rect x="1054" y="368" width="1" height="33"/><rect x="1052" y="370" width="5" height="20"/>
<rect x="1062" y="382" width="1" height="27"/><rect x="1060" y="389" width="5" height="15"/>
<rect x="1070" y="368" width="1" height="40"/><rect x="1068" y="401" width="5" height="3"/><rect x="1069" y="402" width="3" height="1" fill="#fff"/>
<rect x="1078" y="391" width="1" height="36"/><rect x="1076" y="401" width="5" height="23"/>
<rect x="1086" y="404" width="1" height="6"/><rect x="1084" y="404" width="5" height="6"/><rect x="1085" y="405" width="3" height="4" fill="#fff"/>
<rect x="1094" y="403" width="1" height="21"/><rect x="1092" y="404" width="5" height="10"/>
<rect x="1102" y="360" width="1" height="54"/><rect x="1100" y="373" width="5" height="41"/><rect x="1101" y="374" width="3" height="39" fill="#fff"/>
<rect x="1110" y="371" width="1" height="42"/><rect x="1108" y="373" width="5" height="39"/>
<rect x="1118" y="373" width="1" height="41"/><rect x="1116" y="404" width="5" height="6"/><rect x="1117" y="405" width="3" height="4" fill="#fff"/>
<rect x="1126" y="404" width="1" height="22"/><rect x="1124" y="404" width="5" height="22"/>
<rect x="1134" y="417" width="1" height="9"/><rect x="1132" y="421" width="5" height="3"/><rect x="1133" y="422" width="3" height="1" fill="#fff"/>
<rect x="1142" y="418" width="1" height="22"/><rect x="1140" y="420" width="5" height="20"/>
<rect x="1150" y="419" width="1" height="25"/><rect x="1148" y="433" width="5" height="7"/>
<rect x="1158" y="434" width="1" height="44"/><rect x="1156" y="440" width="5" height="33"/>
<rect x="1166" y="450" width="1" height="35"/><rect x="1164" y="453" width="5" height="20"/><rect x="1165" y="454" width="3" height="18" fill="#fff"/>
<rect x="1174" y="445" width="1" height="12"/><rect x="1172" y="448" width="5" height="7"/><rect x="1173" y="449" width="3" height="5" fill="#fff"/>
<rect x="1182" y="447" width="1" height="21"/><rect x="1180" y="448" width="5" height="11"/>
<rect x="1190" y="438" width="1" height="21"/><rect x="1188" y="446" width="5" height="13"/><rect x="1189" y="447" width="3" height="11" fill="#fff"/>
<rect x="1198" y="442" width="1" height="34"/><rect x="1196" y="446" width="5" height="22"/>
<rect x="1206" y="426" width="1" height="56"/><rect x="1204" y="432" width="5" height="36"/><rect x="1205" y="433" width="3" height="34" fill="#fff"/>
<rect x="1214" y="431" width="1" height="63"/><rect x="1212" y="432" width="5" height="62"/>
<rect x="1222" y="464" width="1" height="36"/><rect x="1220" y="465" width="5" height="29"/><rect x="1221" y="466" width="3" height="27" fill="#fff"/>
<rect x="1230" y="461" width="1" height="14"/><rect x="1228" y="465" width="5" height="6"/>
<rect x="1238" y="469" width="1" height="20"/><rect x="1236" y="470" width="5" height="10"/>
<rect x="1246" y="465" width="1" height="29"/><rect x="1244" y="479" width="5" height="1"/>
<rect x="1254" y="464" width="1" height="70"/><rect x="1252" y="479" width="5" height="11"/>
<rect x="1262" y="478" width="1" height="58"/><rect x="1260" y="489" width="5" height="31"/>
<rect x="1270" y="518" width="1" height="27"/><rect x="1268" y="519" width="5" height="21"/>
<rect x="1278" y="534" width="1" height="13"/><rect x="1276" y="540" width="5" height="1"/>
<rect x="1286" y="525" width="1" height="15"/><rect x="1284" y="530" width="5" height="10"/><rect x="1285" y="531" width="3" height="8" fill="#fff"/>
<rect x="1294" y="522" width="1" height="30"/><rect x="1292" y="530" width="5" height="8"/>
<rect x="1302" y="531" width="1" height="26"/><rect x="1300" y="537" width="5" height="20"/>
<rect x="1310" y="501" width="1" height="66"/><rect x="1308" y="506" width="5" height="51"/><rect x="1309" y="507" width="3" height="49" fill="#fff"/>
<rect x="1318" y="454" width="1" height="54"/><rect x="1316" y="463" width="5" height="44"/><rect x="1317" y="464" width="3" height="42" fill="#fff"/>
<rect x="1326" y="464" width="1" height="6"/><rect x="1324" y="466" width="5" height="2"/>
<rect x="1334" y="466" width="1" height="16"/><rect x="1332" y="468" width="5" height="10"/>
<rect x="1342" y="450" width="1" height="30"/><rect x="1340" y="451" width="5" height="27"/><rect x="1341" y="452" width="3" height="25" fill="#fff"/>
<rect x="1350" y="437" width="1" height="17"/><rect x="1348" y="444" width="5" height="7"/><rect x="1349" y="445" width="3" height="5" fill="#fff"/>
<rect x="1358" y="442" width="1" height="19"/><rect x="1356" y="443" width="5" height="3"/>
<rect x="1366" y="440" width="1" height="21"/><rect x="1364" y="446" width="5" height="3"/>
<rect x="1374" y="440" width="1" height="23"/><rect x="1372" y="445" width="5" height="4"/><rect x="1373" y="446" width="3" height="2" fill="#fff"/>
<rect x="1382" y="410" width="1" height="37"/><rect x="1380" y="415" width="5" height="32"/><rect x="1381" y="416" width="3" height="30" fill="#fff"/>
<rect x="1390" y="409" width="1" height="23"/><rect x="1388" y="413" width="5" height="16"/>
<rect x="1398" y="425" width="1" height="39"/><rect x="1396" y="427" width="5" height="17"/>
<rect x="1406" y="424" width="1" height="81"/><rect x="1404" y="444" width="5" height="61"/>
<rect x="1414" y="494" width="1" height="32"/><rect x="1412" y="500" width="5" height="5"/><rect x="1413" y="501" width="3" height="3" fill="#fff"/>
<rect x="1422" y="494" width="1" height="11"/><rect x="1420" y="494" width="5" height="10"/><rect x="1421" y="495" width="3" height="8" fill="#fff"/>
<rect x="1430" y="493" width="1" height="16"/><rect x="1428" y="494" width="5" height="4"/>
<rect x="1438" y="483" width="1" height="30"/><rect x="1436" y="498" width="5" height="1"/>
<rect x="1446" y="462" width="1" height="59"/><rect x="1444" y="468" width="5" height="30"/><rect x="1445" y="469" width="3" height="28" fill="#fff"/>
<rect x="1454" y="457" width="1" height="83"/><rect x="1452" y="468" width="5" height="38"/>
<rect x="1462" y="481" width="1" height="26"/><rect x="1460" y="500" width="5" height="6"/><rect x="1461" y="501" width="3" height="4" fill="#fff"/>
<rect x="1470" y="496" width="1" height="8"/><rect x="1468" y="500" width="5" height="1"/>
</g>
<line x1="978" y1="306" x2="1305" y2="563" stroke="#ff0000" stroke-width="3.6" stroke-linecap="butt"/><polygon fill="#ff0000" points="1305,563 1290.29,559.07 1297.7,549.63"/>
<line x1="1305" y1="563" x2="1393" y2="401" stroke="#ff0000" stroke-width="3.6" stroke-linecap="butt"/><polygon fill="#ff0000" points="1393,401 1391.59,416.17 1381.05,410.44"/>
<line x1="1392" y1="402" x2="1411" y2="516" stroke="#ff0000" stroke-width="3.6" stroke-linecap="butt"/><polygon fill="#ff0000" points="1411,516 1402.78,503.18 1414.62,501.2"/>
<line x1="1411" y1="515" x2="1444" y2="462" stroke="#ff0000" stroke-width="3.6" stroke-linecap="butt"/><polygon fill="#ff0000" points="1444,462 1441.69,477.06 1431.51,470.71"/>
<line x1="1444" y1="463" x2="1456" y2="538" stroke="#ff0000" stroke-width="3.6" stroke-linecap="butt"/><polygon fill="#ff0000" points="1456,538 1447.86,525.12 1459.71,523.23"/>
<line x1="1456" y1="537" x2="1468" y2="504" stroke="#ff0000" stroke-width="3" stroke-linecap="butt"/><polygon fill="#ff0000" points="1468,504 1468.85,519.21 1457.58,515.11"/>
<rect x="1346" y="485" width="169" height="8" fill="#00ff00"/>
<rect x="845" y="511" width="9" height="1" fill="#ff0000"/>
<rect x="783.5" y="502.5" width="61" height="18" fill="#fff" stroke="#ff0000" stroke-width="1"/><text x="786" y="518" font-size="16.8" fill="#ff0000" text-anchor="start" font-weight="normal" textLength="57" lengthAdjust="spacingAndGlyphs">1.37865</text>
<rect x="1039" y="488" width="10" height="1" fill="#ff0000"/>
<rect x="1049.5" y="476.5" width="73" height="24" fill="#fff" stroke="#ff0000" stroke-width="1"/><text x="1051.5" y="497.2" font-size="22.5" fill="#ff0000" text-anchor="start" font-weight="normal" textLength="70" lengthAdjust="spacingAndGlyphs">1.38097</text>
<rect x="1300" y="566" width="10" height="1" fill="#ff0000"/>
<rect x="1239.5" y="557.5" width="61" height="18" fill="#fff" stroke="#ff0000" stroke-width="1"/><text x="1242" y="573" font-size="16.8" fill="#ff0000" text-anchor="start" font-weight="normal" textLength="57" lengthAdjust="spacingAndGlyphs">1.37311</text>
<rect x="1380" y="400" width="12" height="1" fill="#ff0000"/>
<rect x="1319.5" y="391.5" width="61" height="18" fill="#fff" stroke="#ff0000" stroke-width="1"/><text x="1322" y="407" font-size="16.8" fill="#ff0000" text-anchor="start" font-weight="normal" textLength="57" lengthAdjust="spacingAndGlyphs">1.38983</text>
<rect x="1444" y="545" width="11" height="1" fill="#ff0000"/>
<rect x="1383.5" y="536.5" width="61" height="18" fill="#fff" stroke="#ff0000" stroke-width="1"/><text x="1386" y="552" font-size="16.8" fill="#ff0000" text-anchor="start" font-weight="normal" textLength="57" lengthAdjust="spacingAndGlyphs">1.37522</text>
<rect x="1559.5" y="464.5" width="110" height="24" fill="none" stroke="#404040" stroke-width="1"/>
<rect x="1560" y="488" width="96" height="1" fill="#ff00ff"/>
<text x="1560.5" y="482.6" font-size="20" fill="#00ff00" text-anchor="start" font-weight="normal" letter-spacing="1.6">多空转折点</text>
<rect x="1612.5" y="461.5" width="3" height="3" fill="#fff" stroke="#ff00ff" stroke-width="1"/>
</g>
<polygon points="1467,27 1477,27 1472,32" fill="#c0c0c0"/>
<polygon points="1,38 9,38 5,33.5" fill="#000"/>
<text x="13" y="38" font-size="9.6" fill="#000" text-anchor="start" font-weight="normal" textLength="204" lengthAdjust="spacingAndGlyphs">GBPUSD-,H4&#160;&#160;1.37983 1.38018 1.37946 1.37974</text>
<rect x="0" y="44" width="222" height="59" fill="#fff"/>
<rect x="1" y="46" width="52" height="24" fill="url(#gSellTop)"/>
<rect x="1" y="70" width="109" height="33" fill="url(#gSellBot)"/>
<rect x="168" y="46" width="52" height="24" fill="url(#gSellTop)"/>
<rect x="112" y="70" width="108" height="33" fill="url(#gSellBot)"/>
<rect x="5" y="69" width="44" height="1" fill="#f7a0a0"/>
<rect x="172" y="69" width="44" height="1" fill="#f7a0a0"/>
<rect x="55.5" y="46.5" width="110" height="20" fill="#fff" stroke="#b8b8b8"/>
<rect x="56" y="47" width="20" height="19" fill="url(#gBtn)" stroke="#c8c8c8" stroke-width="0.5"/>
<rect x="145" y="47" width="20" height="19" fill="url(#gBtn)" stroke="#c8c8c8" stroke-width="0.5"/>
<polygon points="63,56 69,56 66,59" fill="#5060c0"/>
<polygon points="152,59 158,59 155,56" fill="#5060c0"/>
<text x="141" y="61" font-size="12" fill="#000" text-anchor="end" font-weight="normal" >1.00</text>
<text x="26" y="62" font-size="12" fill="#fff" text-anchor="middle" font-weight="normal" >SELL</text>
<text x="193" y="62" font-size="12" fill="#fff" text-anchor="middle" font-weight="normal" >BUY</text>
<text x="21" y="98" font-size="12" fill="#fff" text-anchor="start" font-weight="bold" >1.37</text>
<text x="48" y="98" font-size="32" fill="#fff" text-anchor="start" font-weight="normal" textLength="34" lengthAdjust="spacingAndGlyphs">97</text>
<text x="88" y="83" font-size="11" fill="#fff" text-anchor="start" font-weight="bold" >4</text>
<text x="131" y="98" font-size="12" fill="#fff" text-anchor="start" font-weight="bold" >1.38</text>
<text x="159" y="98" font-size="32" fill="#fff" text-anchor="start" font-weight="normal" textLength="35" lengthAdjust="spacingAndGlyphs">04</text>
<text x="200" y="83" font-size="11" fill="#fff" text-anchor="start" font-weight="bold" >0</text>
<rect x="0" y="26" width="1657" height="1" fill="#000"/>
<rect x="1656" y="26" width="1" height="902" fill="#000"/>
<rect x="0" y="579" width="1656" height="1" fill="#000"/>
<rect x="0" y="581" width="1656" height="1" fill="#000"/>
<rect x="0" y="751" width="1656" height="1" fill="#000"/>
<rect x="0" y="753" width="1656" height="1" fill="#000"/>
<rect x="0" y="927" width="1657" height="1" fill="#000"/>
<rect x="1657" y="48" width="3" height="1" fill="#000"/>
<text x="1663" y="51.5" font-size="9.5" fill="#000" text-anchor="start" font-weight="normal" textLength="32" lengthAdjust="spacingAndGlyphs">1.42530</text>
<rect x="1657" y="81" width="3" height="1" fill="#000"/>
<text x="1663" y="84.5" font-size="9.5" fill="#000" text-anchor="start" font-weight="normal" textLength="32" lengthAdjust="spacingAndGlyphs">1.42200</text>
<rect x="1657" y="114" width="3" height="1" fill="#000"/>
<text x="1663" y="117.5" font-size="9.5" fill="#000" text-anchor="start" font-weight="normal" textLength="32" lengthAdjust="spacingAndGlyphs">1.41870</text>
<rect x="1657" y="147" width="3" height="1" fill="#000"/>
<text x="1663" y="150.5" font-size="9.5" fill="#000" text-anchor="start" font-weight="normal" textLength="32" lengthAdjust="spacingAndGlyphs">1.41530</text>
<rect x="1657" y="180" width="3" height="1" fill="#000"/>
<text x="1663" y="183.5" font-size="9.5" fill="#000" text-anchor="start" font-weight="normal" textLength="32" lengthAdjust="spacingAndGlyphs">1.41200</text>
<rect x="1657" y="213" width="3" height="1" fill="#000"/>
<text x="1663" y="216.5" font-size="9.5" fill="#000" text-anchor="start" font-weight="normal" textLength="32" lengthAdjust="spacingAndGlyphs">1.40870</text>
<rect x="1657" y="246" width="3" height="1" fill="#000"/>
<text x="1663" y="249.5" font-size="9.5" fill="#000" text-anchor="start" font-weight="normal" textLength="32" lengthAdjust="spacingAndGlyphs">1.40540</text>
<rect x="1657" y="279" width="3" height="1" fill="#000"/>
<text x="1663" y="282.5" font-size="9.5" fill="#000" text-anchor="start" font-weight="normal" textLength="32" lengthAdjust="spacingAndGlyphs">1.40200</text>
<rect x="1657" y="312" width="3" height="1" fill="#000"/>
<text x="1663" y="315.5" font-size="9.5" fill="#000" text-anchor="start" font-weight="normal" textLength="32" lengthAdjust="spacingAndGlyphs">1.39870</text>
<rect x="1657" y="345" width="3" height="1" fill="#000"/>
<text x="1663" y="348.5" font-size="9.5" fill="#000" text-anchor="start" font-weight="normal" textLength="32" lengthAdjust="spacingAndGlyphs">1.39540</text>
<rect x="1657" y="379" width="3" height="1" fill="#000"/>
<text x="1663" y="382.5" font-size="9.5" fill="#000" text-anchor="start" font-weight="normal" textLength="32" lengthAdjust="spacingAndGlyphs">1.39200</text>
<rect x="1657" y="411" width="3" height="1" fill="#000"/>
<text x="1663" y="414.5" font-size="9.5" fill="#000" text-anchor="start" font-weight="normal" textLength="32" lengthAdjust="spacingAndGlyphs">1.38870</text>
<rect x="1657" y="444" width="3" height="1" fill="#000"/>
<text x="1663" y="447.5" font-size="9.5" fill="#000" text-anchor="start" font-weight="normal" textLength="32" lengthAdjust="spacingAndGlyphs">1.38540</text>
<rect x="1657" y="478" width="3" height="1" fill="#000"/>
<text x="1663" y="481.5" font-size="9.5" fill="#000" text-anchor="start" font-weight="normal" textLength="32" lengthAdjust="spacingAndGlyphs">1.38200</text>
<rect x="1657" y="511" width="3" height="1" fill="#000"/>
<text x="1663" y="514.5" font-size="9.5" fill="#000" text-anchor="start" font-weight="normal" textLength="32" lengthAdjust="spacingAndGlyphs">1.37870</text>
<rect x="1657" y="543" width="3" height="1" fill="#000"/>
<text x="1663" y="546.5" font-size="9.5" fill="#000" text-anchor="start" font-weight="normal" textLength="32" lengthAdjust="spacingAndGlyphs">1.37540</text>
<rect x="1657" y="576" width="3" height="1" fill="#000"/>
<text x="1663" y="579.5" font-size="9.5" fill="#000" text-anchor="start" font-weight="normal" textLength="32" lengthAdjust="spacingAndGlyphs">1.37210</text>
<rect x="1658" y="443" width="41" height="11" fill="#ff5a00"/>
<text x="1663" y="451.5" font-size="9.5" fill="#fff" text-anchor="start" font-weight="normal" textLength="32" lengthAdjust="spacingAndGlyphs">1.38489</text>
<rect x="1658" y="465" width="41" height="11" fill="#ff0000"/>
<text x="1663" y="473.5" font-size="9.5" fill="#fff" text-anchor="start" font-weight="normal" textLength="32" lengthAdjust="spacingAndGlyphs">1.38268</text>
<rect x="1658" y="482" width="41" height="11" fill="#40c040"/>
<text x="1663" y="490.5" font-size="9.5" fill="#fff" text-anchor="start" font-weight="normal" textLength="32" lengthAdjust="spacingAndGlyphs">1.38097</text>
<rect x="1658" y="494" width="41" height="11" fill="#000000"/>
<text x="1663" y="502.5" font-size="9.5" fill="#fff" text-anchor="start" font-weight="normal" textLength="32" lengthAdjust="spacingAndGlyphs">1.37974</text>
<rect x="1658" y="513" width="41" height="11" fill="#0000ff"/>
<text x="1663" y="521.5" font-size="9.5" fill="#fff" text-anchor="start" font-weight="normal" textLength="32" lengthAdjust="spacingAndGlyphs">1.37784</text>
<rect x="1658" y="539" width="41" height="11" fill="#0000ff"/>
<text x="1663" y="547.5" font-size="9.5" fill="#fff" text-anchor="start" font-weight="normal" textLength="32" lengthAdjust="spacingAndGlyphs">1.37522</text>
<g clip-path="url(#clipMacd)">
<g fill="#c0c0c0"><rect x="-2" y="616.63" width="1" height="3.87"/><rect x="6" y="616.67" width="1" height="3.83"/><rect x="14" y="620.06" width="1" height="0.5"/><rect x="22" y="620.5" width="1" height="3.02"/><rect x="30" y="620.5" width="1" height="6.81"/><rect x="38" y="620.5" width="1" height="9.8"/><rect x="46" y="620.5" width="1" height="10.93"/><rect x="54" y="620.5" width="1" height="4.94"/><rect x="62" y="620.5" width="1" height="0.5"/><rect x="70" y="613.24" width="1" height="7.26"/><rect x="78" y="607.63" width="1" height="12.87"/><rect x="86" y="604.14" width="1" height="16.36"/><rect x="94" y="602.13" width="1" height="18.37"/><rect x="102" y="604.43" width="1" height="16.07"/><rect x="110" y="603.11" width="1" height="17.39"/><rect x="118" y="601.63" width="1" height="18.87"/><rect x="126" y="602.46" width="1" height="18.04"/><rect x="134" y="600.68" width="1" height="19.82"/><rect x="142" y="602.3" width="1" height="18.2"/><rect x="150" y="603.04" width="1" height="17.46"/><rect x="158" y="601.36" width="1" height="19.14"/><rect x="166" y="599.65" width="1" height="20.85"/><rect x="174" y="596.31" width="1" height="24.19"/><rect x="182" y="592.08" width="1" height="28.42"/><rect x="190" y="591.02" width="1" height="29.48"/><rect x="198" y="597.6" width="1" height="22.9"/><rect x="206" y="603.42" width="1" height="17.08"/><rect x="214" y="610.23" width="1" height="10.27"/><rect x="222" y="615.25" width="1" height="5.25"/><rect x="230" y="618.7" width="1" height="1.8"/><rect x="238" y="620.5" width="1" height="3.37"/><rect x="246" y="620.5" width="1" height="7.49"/><rect x="254" y="620.5" width="1" height="5.89"/><rect x="262" y="620.5" width="1" height="5.02"/><rect x="270" y="620.5" width="1" height="4.45"/><rect x="278" y="620.5" width="1" height="4.09"/><rect x="286" y="620.5" width="1" height="6.8"/><rect x="294" y="620.5" width="1" height="3.53"/><rect x="302" y="620.5" width="1" height="12.6"/><rect x="310" y="620.5" width="1" height="18.6"/><rect x="318" y="620.5" width="1" height="22.99"/><rect x="326" y="620.5" width="1" height="27.51"/><rect x="334" y="620.5" width="1" height="28.4"/><rect x="342" y="620.5" width="1" height="26.74"/><rect x="350" y="620.5" width="1" height="19.35"/><rect x="358" y="620.5" width="1" height="14.83"/><rect x="366" y="620.5" width="1" height="10.87"/><rect x="374" y="620.5" width="1" height="10.33"/><rect x="382" y="620.5" width="1" height="10.89"/><rect x="390" y="620.5" width="1" height="6.15"/><rect x="398" y="620.5" width="1" height="1.95"/><rect x="406" y="618.5" width="1" height="2"/><rect x="414" y="616.11" width="1" height="4.39"/><rect x="422" y="616.32" width="1" height="4.18"/><rect x="430" y="619.49" width="1" height="1.01"/><rect x="438" y="620.5" width="1" height="0.52"/><rect x="446" y="620.5" width="1" height="1.69"/><rect x="454" y="620.5" width="1" height="1.27"/><rect x="462" y="620.5" width="1" height="1.76"/><rect x="470" y="620.5" width="1" height="0.89"/><rect x="478" y="618.91" width="1" height="1.59"/><rect x="486" y="616.72" width="1" height="3.78"/><rect x="494" y="620.5" width="1" height="1.42"/><rect x="502" y="620.5" width="1" height="7.1"/><rect x="510" y="620.5" width="1" height="11.52"/><rect x="518" y="620.5" width="1" height="13.87"/><rect x="526" y="620.5" width="1" height="19.56"/><rect x="534" y="620.5" width="1" height="22.11"/><rect x="542" y="620.5" width="1" height="15.31"/><rect x="550" y="620.5" width="1" height="9.44"/><rect x="558" y="620.5" width="1" height="4.33"/><rect x="566" y="619.65" width="1" height="0.85"/><rect x="574" y="617.05" width="1" height="3.45"/><rect x="582" y="617.19" width="1" height="3.31"/><rect x="590" y="620.5" width="1" height="1.95"/><rect x="598" y="620.5" width="1" height="6.93"/><rect x="606" y="620.5" width="1" height="9.33"/><rect x="614" y="620.5" width="1" height="11.97"/><rect x="622" y="620.5" width="1" height="15.08"/><rect x="630" y="620.5" width="1" height="17.48"/><rect x="638" y="620.5" width="1" height="17.33"/><rect x="646" y="620.5" width="1" height="17.96"/><rect x="654" y="620.5" width="1" height="18.01"/><rect x="662" y="620.5" width="1" height="17.59"/><rect x="670" y="620.5" width="1" height="16.44"/><rect x="678" y="620.5" width="1" height="25.46"/><rect x="686" y="620.5" width="1" height="27.88"/><rect x="694" y="620.5" width="1" height="28.38"/><rect x="702" y="620.5" width="1" height="28.51"/><rect x="710" y="620.5" width="1" height="28.05"/><rect x="718" y="620.5" width="1" height="22.69"/><rect x="726" y="620.5" width="1" height="18.28"/><rect x="734" y="620.5" width="1" height="15.69"/><rect x="742" y="620.5" width="1" height="28.49"/><rect x="750" y="620.5" width="1" height="39.24"/><rect x="758" y="620.5" width="1" height="46.76"/><rect x="766" y="620.5" width="1" height="54.48"/><rect x="774" y="620.5" width="1" height="63.39"/><rect x="782" y="620.5" width="1" height="74.24"/><rect x="790" y="620.5" width="1" height="81.2"/><rect x="798" y="620.5" width="1" height="83.27"/><rect x="806" y="620.5" width="1" height="85.52"/><rect x="814" y="620.5" width="1" height="90.99"/><rect x="822" y="620.5" width="1" height="94.26"/><rect x="830" y="620.5" width="1" height="105.91"/><rect x="838" y="620.5" width="1" height="113.46"/><rect x="846" y="620.5" width="1" height="118.3"/><rect x="854" y="620.5" width="1" height="123.68"/><rect x="862" y="620.5" width="1" height="121.47"/><rect x="870" y="620.5" width="1" height="112.38"/><rect x="878" y="620.5" width="1" height="99.09"/><rect x="886" y="620.5" width="1" height="85.04"/><rect x="894" y="620.5" width="1" height="74"/><rect x="902" y="620.5" width="1" height="65.99"/><rect x="910" y="620.5" width="1" height="62.77"/><rect x="918" y="620.5" width="1" height="57.6"/><rect x="926" y="620.5" width="1" height="50.18"/><rect x="934" y="620.5" width="1" height="39.9"/><rect x="942" y="620.5" width="1" height="31.36"/><rect x="950" y="620.5" width="1" height="26.82"/><rect x="958" y="620.5" width="1" height="16.41"/><rect x="966" y="620.5" width="1" height="9.11"/><rect x="974" y="620.5" width="1" height="2.77"/><rect x="982" y="620.5" width="1" height="0.5"/><rect x="990" y="617.33" width="1" height="3.17"/><rect x="998" y="616.31" width="1" height="4.19"/><rect x="1006" y="615.54" width="1" height="4.96"/><rect x="1014" y="620.5" width="1" height="0.5"/><rect x="1022" y="620.5" width="1" height="5.37"/><rect x="1030" y="620.5" width="1" height="5.31"/><rect x="1038" y="620.5" width="1" height="7.7"/><rect x="1046" y="620.5" width="1" height="7.78"/><rect x="1054" y="620.5" width="1" height="10.26"/><rect x="1062" y="620.5" width="1" height="14.01"/><rect x="1070" y="620.5" width="1" height="16.56"/><rect x="1078" y="620.5" width="1" height="21.24"/><rect x="1086" y="620.5" width="1" height="22.09"/><rect x="1094" y="620.5" width="1" height="23.72"/><rect x="1102" y="620.5" width="1" height="19.44"/><rect x="1110" y="620.5" width="1" height="21"/><rect x="1118" y="620.5" width="1" height="21.05"/><rect x="1126" y="620.5" width="1" height="23.58"/><rect x="1134" y="620.5" width="1" height="24.85"/><rect x="1142" y="620.5" width="1" height="27.95"/><rect x="1150" y="620.5" width="1" height="30.01"/><rect x="1158" y="620.5" width="1" height="35.72"/><rect x="1166" y="620.5" width="1" height="37.31"/><rect x="1174" y="620.5" width="1" height="37.44"/><rect x="1182" y="620.5" width="1" height="38.39"/><rect x="1190" y="620.5" width="1" height="37.14"/><rect x="1198" y="620.5" width="1" height="38.51"/><rect x="1206" y="620.5" width="1" height="34.55"/><rect x="1214" y="620.5" width="1" height="39.16"/><rect x="1222" y="620.5" width="1" height="38.66"/><rect x="1230" y="620.5" width="1" height="38.42"/><rect x="1238" y="620.5" width="1" height="39.1"/><rect x="1246" y="620.5" width="1" height="39.19"/><rect x="1254" y="620.5" width="1" height="40.03"/><rect x="1262" y="620.5" width="1" height="44.36"/><rect x="1270" y="620.5" width="1" height="49.99"/><rect x="1278" y="620.5" width="1" height="53.95"/><rect x="1286" y="620.5" width="1" height="55.12"/><rect x="1294" y="620.5" width="1" height="56.35"/><rect x="1302" y="620.5" width="1" height="59.17"/><rect x="1310" y="620.5" width="1" height="53.99"/><rect x="1318" y="620.5" width="1" height="43.53"/><rect x="1326" y="620.5" width="1" height="35.26"/><rect x="1334" y="620.5" width="1" height="29.72"/><rect x="1342" y="620.5" width="1" height="21.66"/><rect x="1350" y="620.5" width="1" height="14.08"/><rect x="1358" y="620.5" width="1" height="8.17"/><rect x="1366" y="620.5" width="1" height="3.87"/><rect x="1374" y="620.5" width="1" height="0.5"/><rect x="1382" y="613.47" width="1" height="7.03"/><rect x="1390" y="609.75" width="1" height="10.75"/><rect x="1398" y="609.02" width="1" height="11.48"/><rect x="1406" y="616.79" width="1" height="3.71"/><rect x="1414" y="620.5" width="1" height="1.79"/><rect x="1422" y="620.5" width="1" height="5.39"/><rect x="1430" y="620.5" width="1" height="8.45"/><rect x="1438" y="620.5" width="1" height="10.88"/><rect x="1446" y="620.5" width="1" height="8.68"/><rect x="1454" y="620.5" width="1" height="11.87"/><rect x="1462" y="620.5" width="1" height="13.46"/><rect x="1470" y="620.5" width="1" height="14.55"/></g>
<polyline fill="none" stroke="#ff0000" stroke-width="1" stroke-dasharray="3,3" points="-1.5,613.57 6.5,613.8 14.5,614.91 22.5,616.58 30.5,618.59 38.5,620.57 46.5,622.11 54.5,622.89 62.5,623.58 70.5,623.2 78.5,622.2 86.5,620.43 94.5,618.05 102.5,615.51 110.5,612.49 118.5,609.18 126.5,606.62 134.5,604.38 142.5,603.17 150.5,602.66 158.5,602.35 166.5,602.07 174.5,601.17 182.5,599.95 190.5,598.77 198.5,598.23 206.5,598.53 214.5,599.41 222.5,600.77 230.5,602.69 238.5,605.39 246.5,608.91 254.5,612.72 262.5,616.55 270.5,619.59 278.5,621.94 286.5,623.84 294.5,624.82 302.5,626.42 310.5,628.11 318.5,629.83 326.5,632.23 334.5,634.83 342.5,637.31 350.5,639 358.5,639.89 366.5,640.71 374.5,640.46 382.5,639.6 390.5,637.73 398.5,634.89 406.5,631.51 414.5,628.05 422.5,625.44 430.5,623.68 438.5,622.53 446.5,621.57 454.5,620.5 462.5,620.01 470.5,619.89 478.5,619.94 486.5,620.01 494.5,620.63 502.5,621.53 510.5,622.75 518.5,624.11 526.5,626.14 534.5,628.4 542.5,630 550.5,631.23 558.5,632.13 566.5,631.88 574.5,630.7 582.5,629.06 590.5,627.73 598.5,626.33 606.5,624.91 614.5,624.54 622.5,625.17 630.5,626.63 638.5,628.65 646.5,631.02 654.5,633.39 662.5,635.13 670.5,636.19 678.5,637.98 686.5,639.75 694.5,641.22 702.5,642.45 710.5,643.64 718.5,644.17 726.5,644.2 734.5,643.99 742.5,645.33 750.5,646.86 758.5,648.96 766.5,651.86 774.5,655.73 782.5,660.86 790.5,667.37 798.5,674.59 806.5,682.35 814.5,689.29 822.5,695.4 830.5,701.98 838.5,708.53 846.5,714.63 854.5,720.12 862.5,724.6 870.5,727.83 878.5,729.34 886.5,728.68 894.5,726.43 902.5,721.99 910.5,716.36 918.5,709.61 926.5,701.45 934.5,692.39 942.5,683.38 950.5,675.35 958.5,667.73 966.5,660.52 974.5,653.49 982.5,646.52 990.5,639.76 998.5,633.72 1006.5,628.74 1014.5,625.31 1022.5,622.92 1030.5,621.69 1038.5,621.53 1046.5,622.09 1054.5,623.23 1062.5,625.14 1070.5,627.44 1078.5,630.36 1086.5,632.76 1094.5,634.8 1102.5,636.37 1110.5,637.85 1118.5,639.32 1126.5,640.8 1134.5,642 1142.5,643.27 1150.5,644.24 1158.5,645.76 1166.5,647.27 1174.5,649.27 1182.5,651.2 1190.5,652.99 1198.5,654.65 1206.5,655.72 1214.5,656.97 1222.5,657.93 1230.5,658.23 1238.5,658.43 1246.5,658.62 1254.5,658.8 1262.5,659.61 1270.5,660.88 1278.5,663.04 1286.5,664.81 1294.5,666.78 1302.5,669.08 1310.5,670.74 1318.5,671.22 1326.5,670.69 1334.5,669.06 1342.5,665.92 1350.5,661.49 1358.5,656.27 1366.5,650.44 1374.5,643.87 1382.5,637.09 1390.5,631.06 1398.5,625.86 1406.5,622.15 1414.5,619.94 1422.5,618.98 1430.5,619.01 1438.5,619.79 1446.5,620.75 1454.5,622.85 1462.5,625.54 1470.5,628.43"/>
<line x1="1391" y1="606" x2="1469" y2="634" stroke="#ff0000" stroke-width="3" stroke-linecap="butt"/><polygon fill="#ff0000" points="1469,634 1453.8,634.92 1457.85,623.62"/>
</g>
<text x="3" y="594" font-size="9.5" fill="#000" text-anchor="start" font-weight="normal" textLength="152" lengthAdjust="spacingAndGlyphs">MACD(12,26,9) -0.000872 -0.000480</text>
<rect x="1657" y="583" width="4" height="1"/>
<text x="1661" y="592" font-size="9.5" fill="#000" text-anchor="start" font-weight="normal" textLength="39" lengthAdjust="spacingAndGlyphs">0.002214</text>
<rect x="1657" y="620" width="4" height="1"/>
<text x="1661" y="624" font-size="9.5" fill="#000" text-anchor="start" font-weight="normal" textLength="19" lengthAdjust="spacingAndGlyphs">0.00</text>
<text x="1660" y="748" font-size="9.5" fill="#000" text-anchor="start" font-weight="normal" textLength="42" lengthAdjust="spacingAndGlyphs">-0.007831</text>
<g clip-path="url(#clipRsi)">
<line x1="0" y1="789.5" x2="1656" y2="789.5" stroke="#c0c0c0" stroke-width="1" stroke-dasharray="3,3"/>
<line x1="0" y1="841.5" x2="1656" y2="841.5" stroke="#c0c0c0" stroke-width="1" stroke-dasharray="3,3"/>
<line x1="0" y1="901.5" x2="1656" y2="901.5" stroke="#c0c0c0" stroke-width="1" stroke-dasharray="3,3"/>
<polyline fill="none" stroke="#1e90ff" stroke-width="1"  points="-1.5,844.12 6.5,839.68 14.5,848.76 22.5,850.81 30.5,853.68 38.5,853.97 46.5,849.81 54.5,829.31 62.5,829.8 70.5,820.19 78.5,821.12 86.5,824 94.5,826.1 102.5,839.17 110.5,829.72 118.5,827.98 126.5,834.27 134.5,826.9 142.5,836.46 150.5,834.28 158.5,827.37 166.5,825.72 174.5,819.87 182.5,815.35 190.5,823.22 198.5,845.93 206.5,847.01 214.5,852.42 222.5,850.94 230.5,849.01 238.5,855.91 246.5,856.2 254.5,839.38 262.5,840.82 270.5,841.42 278.5,841.9 286.5,852.24 294.5,834.01 302.5,862.42 310.5,859.54 318.5,859.24 326.5,862.02 334.5,854.33 342.5,848.12 350.5,833.07 358.5,837.09 366.5,836.44 374.5,843.79 382.5,846.68 390.5,833.2 398.5,832.22 406.5,830.59 414.5,832.85 422.5,839.35 430.5,847.97 438.5,844.84 446.5,844.75 454.5,840.26 462.5,843.08 470.5,838.68 478.5,832.61 486.5,831.7 494.5,854.69 502.5,858.86 510.5,859 518.5,854.92 526.5,865.43 534.5,858.54 542.5,832.22 550.5,831.33 558.5,830.29 566.5,827.35 574.5,832.44 582.5,839.54 590.5,853.74 598.5,855.87 606.5,850.98 614.5,853.31 622.5,856.47 630.5,856.84 638.5,849.53 646.5,852.45 654.5,851.48 662.5,850.33 670.5,847.47 678.5,874.76 686.5,858.2 694.5,854.53 702.5,854.7 710.5,853.79 718.5,838 726.5,838.14 734.5,841.76 742.5,874 750.5,875.47 758.5,873.91 766.5,877.44 774.5,882.16 782.5,887.5 790.5,884.93 798.5,876.12 806.5,878.38 814.5,884.45 822.5,884.48 830.5,894.61 838.5,893.32 846.5,893.52 854.5,896.12 862.5,878.27 870.5,861.04 878.5,849.37 886.5,843.99 894.5,845.84 902.5,848.82 910.5,856.02 918.5,851.15 926.5,844.61 934.5,836.07 942.5,836.01 950.5,842.01 958.5,828.33 966.5,830.89 974.5,829.85 982.5,835.67 990.5,833.39 998.5,837.28 1006.5,837.21 1014.5,852.25 1022.5,853.68 1030.5,842.88 1038.5,848.84 1046.5,844.17 1054.5,850.17 1062.5,854.54 1070.5,853.82 1078.5,860.29 1086.5,851.95 1094.5,854.85 1102.5,839.46 1110.5,851.55 1118.5,848.96 1126.5,854.94 1134.5,853.61 1142.5,858.82 1150.5,858.64 1158.5,867.69 1166.5,859.31 1174.5,857.05 1182.5,859.95 1190.5,854.48 1198.5,861 1206.5,846.26 1214.5,863.02 1222.5,853.04 1230.5,854.2 1238.5,856.82 1246.5,856.82 1254.5,859.44 1262.5,867.55 1270.5,872.25 1278.5,872.45 1286.5,867.46 1294.5,869.33 1302.5,874.06 1310.5,851.07 1318.5,836.44 1326.5,837.5 1334.5,840.97 1342.5,832.75 1350.5,830.42 1358.5,831 1366.5,832.34 1374.5,831.18 1382.5,820.91 1390.5,827.09 1398.5,833.96 1406.5,855.22 1414.5,853.34 1422.5,851.23 1430.5,851.98 1438.5,852.33 1446.5,839.43 1454.5,852.68 1462.5,850.28 1470.5,850.28"/>
<line x1="1376" y1="855" x2="1473" y2="854" stroke="#ff0000" stroke-width="3" stroke-linecap="butt"/><polygon fill="#ff0000" points="1473,854 1459.06,860.14 1458.94,848.14"/>
</g>
<text x="3" y="766" font-size="9.5" fill="#000" text-anchor="start" font-weight="normal" textLength="67" lengthAdjust="spacingAndGlyphs">RSI(14) 44.5037</text>
<text x="1659" y="764" font-size="9.5" fill="#000" text-anchor="start" font-weight="normal" >100</text>
<text x="1659" y="792.5" font-size="9.5" fill="#000" text-anchor="start" font-weight="normal" >80</text>
<text x="1659" y="844.5" font-size="9.5" fill="#000" text-anchor="start" font-weight="normal" >50</text>
<text x="1659" y="904.5" font-size="9.5" fill="#000" text-anchor="start" font-weight="normal" >15</text>
<text x="1659" y="924.3" font-size="9.5" fill="#000" text-anchor="start" font-weight="normal" >0</text>
<text x="-3" y="940" font-size="9.5" fill="#000" text-anchor="start" font-weight="normal" >26 May 2021</text>
<rect x="62" y="927" width="1" height="4"/>
<text x="61" y="940" font-size="9.5" fill="#000" text-anchor="start" font-weight="normal" >27 May 12:00</text>
<rect x="126" y="927" width="1" height="4"/>
<text x="125" y="940" font-size="9.5" fill="#000" text-anchor="start" font-weight="normal" >30 May 23:00</text>
<rect x="190" y="927" width="1" height="4"/>
<text x="189" y="940" font-size="9.5" fill="#000" text-anchor="start" font-weight="normal" >1 Jun 04:00</text>
<rect x="254" y="927" width="1" height="4"/>
<text x="253" y="940" font-size="9.5" fill="#000" text-anchor="start" font-weight="normal" >2 Jun 12:00</text>
<rect x="318" y="927" width="1" height="4"/>
<text x="317" y="940" font-size="9.5" fill="#000" text-anchor="start" font-weight="normal" >3 Jun 20:00</text>
<rect x="382" y="927" width="1" height="4"/>
<text x="381" y="940" font-size="9.5" fill="#000" text-anchor="start" font-weight="normal" >7 Jun 04:00</text>
<rect x="446" y="927" width="1" height="4"/>
<text x="445" y="940" font-size="9.5" fill="#000" text-anchor="start" font-weight="normal" >8 Jun 12:00</text>
<rect x="510" y="927" width="1" height="4"/>
<text x="509" y="940" font-size="9.5" fill="#000" text-anchor="start" font-weight="normal" >9 Jun 20:00</text>
<rect x="574" y="927" width="1" height="4"/>
<text x="573" y="940" font-size="9.5" fill="#000" text-anchor="start" font-weight="normal" >11 Jun 04:00</text>
<rect x="638" y="927" width="1" height="4"/>
<text x="637" y="940" font-size="9.5" fill="#000" text-anchor="start" font-weight="normal" >14 Jun 12:00</text>
<rect x="702" y="927" width="1" height="4"/>
<text x="701" y="940" font-size="9.5" fill="#000" text-anchor="start" font-weight="normal" >15 Jun 20:00</text>
<rect x="766" y="927" width="1" height="4"/>
<text x="765" y="940" font-size="9.5" fill="#000" text-anchor="start" font-weight="normal" >17 Jun 04:00</text>
<rect x="830" y="927" width="1" height="4"/>
<text x="829" y="940" font-size="9.5" fill="#000" text-anchor="start" font-weight="normal" >18 Jun 12:00</text>
<rect x="894" y="927" width="1" height="4"/>
<text x="893" y="940" font-size="9.5" fill="#000" text-anchor="start" font-weight="normal" >21 Jun 20:00</text>
<rect x="958" y="927" width="1" height="4"/>
<text x="957" y="940" font-size="9.5" fill="#000" text-anchor="start" font-weight="normal" >23 Jun 04:00</text>
<rect x="1022" y="927" width="1" height="4"/>
<text x="1021" y="940" font-size="9.5" fill="#000" text-anchor="start" font-weight="normal" >24 Jun 12:00</text>
<rect x="1086" y="927" width="1" height="4"/>
<text x="1085" y="940" font-size="9.5" fill="#000" text-anchor="start" font-weight="normal" >27 Jun 23:00</text>
<rect x="1150" y="927" width="1" height="4"/>
<text x="1149" y="940" font-size="9.5" fill="#000" text-anchor="start" font-weight="normal" >29 Jun 04:00</text>
<rect x="1214" y="927" width="1" height="4"/>
<text x="1213" y="940" font-size="9.5" fill="#000" text-anchor="start" font-weight="normal" >30 Jun 12:00</text>
<rect x="1278" y="927" width="1" height="4"/>
<text x="1277" y="940" font-size="9.5" fill="#000" text-anchor="start" font-weight="normal" >1 Jul 20:00</text>
<rect x="1342" y="927" width="1" height="4"/>
<text x="1341" y="940" font-size="9.5" fill="#000" text-anchor="start" font-weight="normal" >5 Jul 04:00</text>
<rect x="1406" y="927" width="1" height="4"/>
<text x="1405" y="940" font-size="9.5" fill="#000" text-anchor="start" font-weight="normal" >6 Jul 12:00</text>
<rect x="1470" y="927" width="1" height="4"/>
<text x="1469" y="940" font-size="9.5" fill="#000" text-anchor="start" font-weight="normal" >7 Jul 20:00</text>
<rect x="1702" y="22" width="1" height="923" fill="#e0e0e0"/>
</svg>
</body></html>
